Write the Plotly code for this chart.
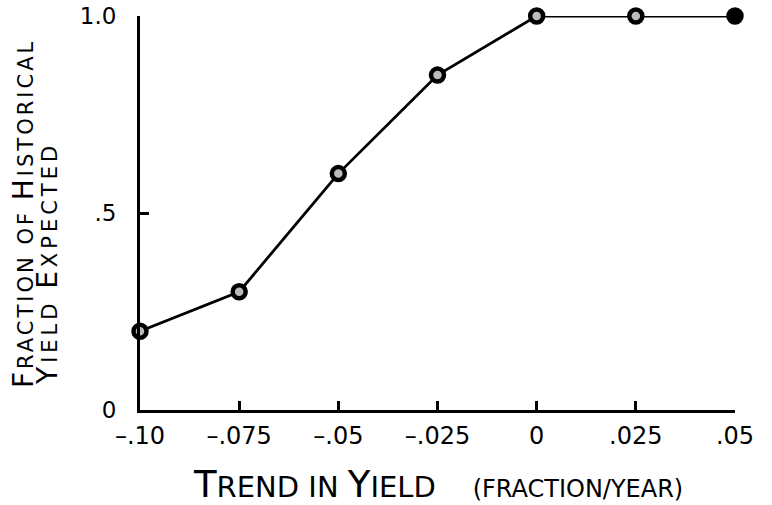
import plotly.graph_objects as go

trend = [-0.10, -0.075, -0.05, -0.025, 0.0, 0.025, 0.05]
fraction = [0.2, 0.3, 0.6, 0.85, 1.0, 1.0, 1.0]

x_tickvals = [-0.10, -0.075, -0.05, -0.025, 0.0, 0.025, 0.05]
x_ticktext = ["\u2013.10", "\u2013.075", "\u2013.05", "\u2013.025", "0", ".025", ".05"]
y_tickvals = [0, 0.5, 1.0]
y_ticktext = ["0", ".5", "1.0"]


def small_caps(parts, big, small, spacing):
    out = []
    for cap, rest in parts:
        out.append(f"<span style='font-size:{big}px;letter-spacing:{spacing}px'>{cap}</span>")
        out.append(f"<span style='font-size:{small}px;letter-spacing:{spacing}px'>{rest}</span>")
    return "".join(out)


x_title = ("T<span style='font-size:29px'>REND IN </span>Y<span style='font-size:29px'>IELD"
           "\u00a0\u00a0\u00a0\u00a0</span><span style='font-size:24px'>(FRACTION/YEAR)</span>")
y_title_1 = small_caps([("F", "RACTION OF "), ("H", "ISTORICAL")], 28, 21, 3)
y_title_2 = small_caps([("Y", "IELD "), ("E", "XPECTED")], 28, 21, 4)

FONT = "DejaVu Sans, Liberation Sans, sans-serif"

fig = go.Figure()
fig.add_trace(go.Scatter(
    x=trend, y=fraction, mode="lines+markers",
    line=dict(color="black", width=2.8),
    marker=dict(symbol="circle", size=13,
                color=["#bbbbbb"] * 6 + ["black"],
                line=dict(color="black", width=4.5)),
    cliponaxis=False, showlegend=False,
))

fig.update_layout(
    width=772, height=505,
    margin=dict(l=140, r=37, t=16, b=95),
    paper_bgcolor="white", plot_bgcolor="white",
    font=dict(family=FONT, color="black"),
    xaxis=dict(
        range=[-0.10, 0.05], tickvals=x_tickvals, ticktext=x_ticktext,
        showgrid=False, zeroline=False, showline=True, linecolor="black", linewidth=3,
        ticks="inside", ticklen=9, tickwidth=2.5, tickcolor="black",
        tickfont=dict(size=24), ticklabelstandoff=2, automargin=False,
        ticklabeloverflow="allow",
    ),
    yaxis=dict(
        range=[0, 1.0], tickvals=y_tickvals, ticktext=y_ticktext,
        showgrid=False, zeroline=False, showline=True, linecolor="black", linewidth=3,
        ticks="inside", ticklen=9, tickwidth=2.5, tickcolor="black",
        tickfont=dict(size=23), ticklabelstandoff=16, automargin=False,
        ticklabeloverflow="allow",
    ),
    annotations=[
        dict(text=x_title, xref="paper", yref="paper", x=0.5, y=0,
             xanchor="center", yanchor="middle", yshift=-74, showarrow=False,
             font=dict(size=37)),
        dict(text=y_title_1, xref="paper", yref="paper", x=0, y=0.4975,
             xanchor="center", yanchor="middle", xshift=-116, textangle=-90,
             showarrow=False, font=dict(size=28)),
        dict(text=y_title_2, xref="paper", yref="paper", x=0, y=0.3706,
             xanchor="center", yanchor="middle", xshift=-92, textangle=-90,
             showarrow=False, font=dict(size=28)),
    ],
)

# remove the browser's default 8px body margin so the figure sits at the window origin
fig.write_html("out.html", config={"displayModeBar": False},
               post_script="document.body.style.margin='0px';")
